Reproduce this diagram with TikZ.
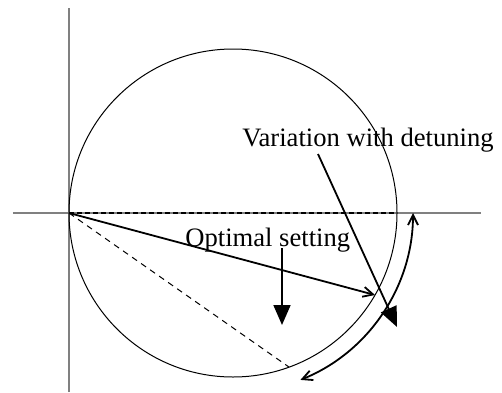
\documentclass[tikz,border=0pt]{standalone}
\usepackage{fontspec}
\setmainfont{Liberation Serif}
\usetikzlibrary{calc}
\usetikzlibrary{arrows.meta}

\tikzset{
  axis/.style={draw=gray, line width=0.6pt},
  thinline/.style={line width=0.5pt},
  openarrow/.style={line width=0.9pt, -{Straight Barb[length=5pt, width=5pt]}},
  bigarrow/.style={line width=0.9pt, -{Triangle[length=10pt, width=8.5pt]}},
  label/.style={font=\fontsize{13.3}{15}\selectfont, inner sep=0pt}
}

\begin{document}
\begin{tikzpicture}[x=0.5pt, y=0.5pt]
    \useasboundingbox (-69,-179) rectangle (433,213);

    \coordinate (O) at (0, 0);
    \coordinate (C) at (164, 0);
    \coordinate (top) at (0, 205);
    \coordinate (bottom) at (0, -179);
    \coordinate (left) at (-56, 0);
    \coordinate (right) at (412, 0);
    \coordinate (D) at (328, 0);
    \coordinate (P) at ($(C)+(-30:164)$);
    \coordinate (Q) at ($(C)+(-70:164)$);

    % axes and circle
    \draw[axis] (bottom) -- (top);
    \draw[axis] (left) -- (right);
    \draw[thinline] (C) circle (164);

    \draw[line width=0.9pt, dash pattern=on 2.5pt off 1.5pt] (O) -- (D);
    \draw[thinline, dash pattern=on 3pt off 2.5pt] (O) -- (Q);
    \draw[openarrow] (O) -- (P);

    % labels
    \node[label, anchor=base west] (opt) at (116, -33) {Optimal setting};
    \node[label, anchor=base west] (var) at (173, 67) {Variation with detuning};

    \coordinate (opt0) at (213, -35);
    \coordinate (opt1) at (213, -112);
    \coordinate (var0) at (249, 59);
    \coordinate (var1) at (328, -114);
    \draw[bigarrow] (opt0) -- (opt1);
    \draw[bigarrow] (var0) -- (var1);

    % range of detuning
    \draw[line width=0.9pt, {Straight Barb[length=5pt, width=5pt]}-{Straight Barb[length=5pt, width=5pt]}]
        ($(C)+(0:180)$) arc[start angle=0, end angle=-68, radius=180];
\end{tikzpicture}
\end{document}
